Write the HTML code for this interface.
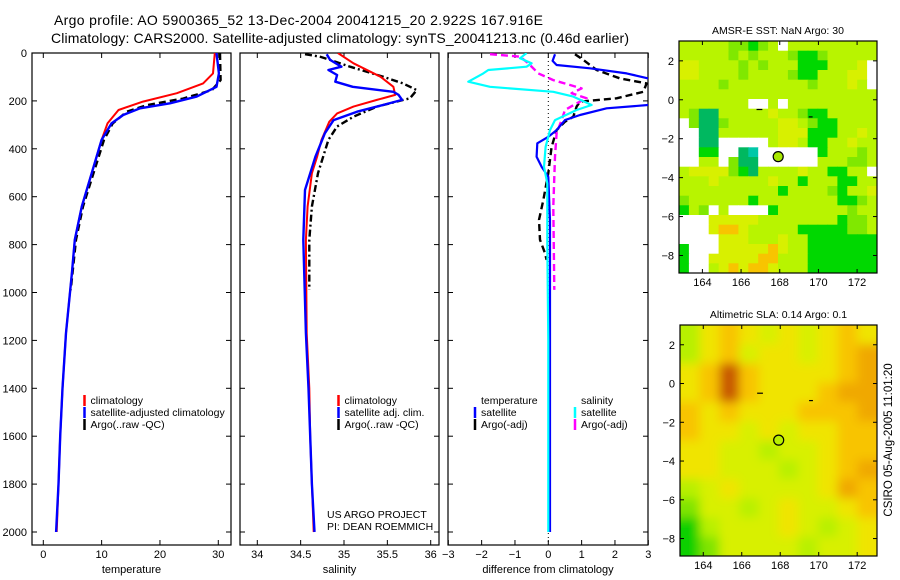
<!DOCTYPE html>
<html><head><meta charset="utf-8">
<style>
html,body{margin:0;padding:0;background:#fff;}
svg{display:block;font-family:"Liberation Sans",sans-serif;}
</style></head>
<body>
<svg id="fig" width="900" height="580" viewBox="0 0 900 580" xmlns="http://www.w3.org/2000/svg">
<defs>
<clipPath id="c1"><rect x="32" y="53" width="199" height="492"/></clipPath>
<clipPath id="c2"><rect x="240" y="53" width="199" height="492"/></clipPath>
<clipPath id="c3"><rect x="448" y="53" width="200" height="492"/></clipPath>
<clipPath id="cm1"><rect x="679" y="41" width="198" height="232"/></clipPath>
<clipPath id="cm2"><rect x="680" y="325" width="197" height="231"/></clipPath>
<filter id="blur" x="-5%" y="-5%" width="110%" height="110%"><feGaussianBlur stdDeviation="5"/></filter>
</defs>
<text x="54" y="25" font-size="14" textLength="489">Argo profile: AO 5900365_52 13-Dec-2004 20041215_20 2.922S 167.916E</text>
<text x="51" y="43" font-size="14" textLength="578">Climatology: CARS2000. Satellite-adjusted climatology: synTS_20041213.nc (0.46d earlier)</text>
<g id="g"></g>
</svg>
<script>
// ---- data ----
const depthTicks = [0,200,400,600,800,1000,1200,1400,1600,1800,2000];
const tempTicks = [0,10,20,30];
const salTicks = [34,34.5,35,35.5,36];
const diffTicks = [-3,-2,-1,0,1,2,3];

const tempClimDepth = [0,85,127,168,203,238,294,363,502,641,780,919,1169,1400,1600,1800,2000];
const tempClim = [29.4,29.1,27.4,22.9,17.1,12.9,11,10,8.3,6.6,5.4,4.9,3.9,3.3,2.9,2.6,2.3];
const tempSatDepth = [0,85,141,182,210,231,259,294,363,502,641,780,919,1169,1400,1600,1800,2000];
const tempSat = [29.7,30.1,29.7,26.3,21.7,16.6,13.7,11.7,10,8.3,6.6,5.4,4.9,3.9,3.3,2.9,2.6,2.2];
const tempArgoDepth = [0,113,155,190,218,245,294,363,502,641,780,919,990];
const tempArgo = [30.3,30.4,28.9,24,17.7,14.3,11.9,10.4,8.6,6.8,5.6,5.0,4.7];

const salClimDepth = [0,43,99,141,175,196,224,252,287,363,433,502,641,780,1169,1400,1600,1800,2000];
const salClim = [34.93,35.11,35.42,35.57,35.59,35.38,35.11,34.92,34.83,34.74,34.69,34.63,34.58,34.56,34.57,34.6,34.61,34.63,34.65];
const salSatDepth = [5,29,57,71,92,120,141,162,175,196,217,245,280,335,433,572,780,1169,1400,1600,1800,2000];
const salSat = [34.8,34.84,34.97,34.82,34.92,34.9,35.1,35.57,35.63,35.67,35.45,35.15,34.88,34.78,34.67,34.55,34.53,34.56,34.59,34.61,34.63,34.66];
const salArgoDepth = [5,15,29,57,99,127,155,189,224,266,307,363,502,641,780,989];
const salArgo = [34.55,34.72,34.84,35.07,35.45,35.68,35.84,35.76,35.38,35.11,34.92,34.82,34.7,34.63,34.6,34.6];

const dTSatDepth = [5,33,50,64,85,106,140,180,217,231,259,280,322,350,377,433,475,517,700,1000,1500,2000];
const dTSat = [0.2,0.13,0.25,1.25,2.35,3,3.6,3.6,3,1.75,0.95,0.5,0.25,0,-0.33,-0.35,-0.2,0,0.05,0.05,0.05,0.05];
const dTArgoDepth = [5,29,71,106,127,162,189,203,224,266,287,322,392,502,614,697,780,836,864];
const dTArgo = [0.8,1.05,1.45,2.15,2.95,2.85,2.05,0.95,0.85,0.75,0.5,0.25,0.1,0,-0.15,-0.28,-0.25,-0.1,-0.05];
const dSSatDepth = [0,22,43,57,71,85,120,141,162,182,217,238,280,322,392,475,544,800,1200,1600,2000];
const dSSat = [-0.65,-0.85,-0.5,-0.65,-1.8,-1.95,-2.4,-1.75,0.15,0.75,1.3,0.85,0.2,0.05,-0.08,-0.13,-0.03,-0.03,0,0,0];
const dSArgoDepth = [5,15,43,85,113,148,168,189,210,238,280,335,433,641,989];
const dSArgo = [-1.75,-0.85,-0.6,-0.3,0.15,1,0.7,1.15,0.85,0.5,0.4,0.25,0.2,0.15,0.18];

const lonTicks = [164,166,168,170,172];
const latTicks = [2,0,-2,-4,-6,-8];
const argoLon = 167.92, argoLat = -2.92;
const sstRows = [
"lllllggGgl.lllllllll",
"lllllglglllgGGglllll",
"yyllllglglllGGGllly.",
"yyllllgllllgGGlllyy.",
"llllgllllllllglllyl.",
"llllllllllllllllllll",
"lllllll..l.lllllllll",
"lgttlllllyllgGGlllll",
".gttglllllyylgGGllll",
"..ttllllllyyyGGGllyl",
"..tt.....lyylGGllyll",
"..GG..tc......Glllgl",
"..ll.gtt......lllggl",
"lyyyygGtllllyllGGll.",
"lllylllllyllGlllGGll",
"llllllllllGllllgGlly",
"gllllllGllllllllGGgl",
"Glg.l....Glllllllgll",
"...yyyyyllllllllGggl",
"...yooylllllGGGGGggl",
"....yyylllyllGGGGGGG",
"G...yyyyyoyllGGGGGGG",
"G..yyyyyoolllGGGGGGG",
"G..lyoyooylllGGGGGGG"];
const slaRows = [
"lyayYyYyay",
"lyaYyyYyao",
"yaOayyyyao",
"yaOayyyaoo",
"ayayyyaaao",
"ayyYyYyyaa",
"yyYYlYYyaa",
"yyYYYlYyao",
"lYyYYYYyoa",
"gYYlYyYYya",
"GlYYYyYlYy",
"GgYYYYlYYy"];

// ---- drawing ----
const NS = "http://www.w3.org/2000/svg";
const G = document.getElementById('g');
function el(tag, attrs, parent){
  const e = document.createElementNS(NS, tag);
  for (const k in attrs) e.setAttribute(k, attrs[k]);
  (parent||G).appendChild(e);
  return e;
}
function txt(x,y,s,size,anchor,parent){
  const t = el('text',{x:x,y:y,'font-size':size,'text-anchor':anchor||'middle'},parent);
  t.textContent = s; return t;
}
const yD = d => 53 + d*0.2395;
const panels = [
  {x0:32,x1:231,fx:v=>43.3+5.833*v,ticks:tempTicks,title:'temperature',clip:'c1',name:'temperature-panel'},
  {x0:240,x1:439,fx:v=>257.3+(v-34)*86.7,ticks:salTicks,title:'salinity',clip:'c2',name:'salinity-panel'},
  {x0:448,x1:648,fx:v=>548.3+33.33*v,ticks:diffTicks,title:'difference from climatology',clip:'c3',name:'difference-panel'}
];
panels.forEach((p,i)=>{
  const g = el('g',{});
  
  
  const r = el('rect',{x:p.x0,y:53,width:p.x1-p.x0,height:492,fill:'none',stroke:'#000','stroke-width':1.2},g);
  
  
  p.ticks.forEach(v=>{
    const x = p.fx(v);
    el('line',{x1:x,x2:x,y1:545,y2:540,stroke:'#000'},g);
    el('line',{x1:x,x2:x,y1:53,y2:58,stroke:'#000'},g);
    const t = txt(x,558,String(v).replace('-','\u2212'),11,'middle',g);
    
    
  });
  depthTicks.forEach(d=>{
    el('line',{x1:p.x0,x2:p.x0+5,y1:yD(d),y2:yD(d),stroke:'#000'},g);
    el('line',{x1:p.x1,x2:p.x1-5,y1:yD(d),y2:yD(d),stroke:'#000'},g);
    if(i===0){
      const t = txt(27,yD(d)+4,String(d),11,'end',g);
      
      
    }
  });
  const at = txt((p.x0+p.x1)/2,573,p.title,11,'middle',g);
  
  
});
function series(p, depths, vals, color, dash, name, w){
  const pts = depths.map((d,k)=>p.fx(vals[k]).toFixed(1)+','+yD(d).toFixed(1)).join(' ');
  const a = {points:pts,fill:'none',stroke:color,'stroke-width':w||2,'clip-path':'url(#'+p.clip+')','stroke-linejoin':'round'};
  if(dash) a['stroke-dasharray']=dash;
  const l = el('polyline',a);
  
  
}
const P1=panels[0],P2=panels[1],P3=panels[2];
const zl = el('line',{x1:P3.fx(0),x2:P3.fx(0),y1:53,y2:545,stroke:'#000','stroke-width':1,'stroke-dasharray':'1,3'});


series(P1,tempArgoDepth,tempArgo,'#000','7,4','temperature-argo-line',2.4);
series(P1,tempClimDepth,tempClim,'#f00',null,'temperature-climatology-line',2);
series(P1,tempSatDepth,tempSat,'#00f',null,'temperature-satellite-line',2.4);
series(P2,salArgoDepth,salArgo,'#000','7,3,2,3','salinity-argo-line',2.4);
series(P2,salClimDepth,salClim,'#f00',null,'salinity-climatology-line',2);
series(P2,salSatDepth,salSat,'#00f',null,'salinity-satellite-line',2.4);
series(P3,dTArgoDepth,dTArgo,'#000','7,4','temp-diff-argo-line',2.4);
series(P3,dSArgoDepth,dSArgo,'#f0f','7,4','sal-diff-argo-line',2.4);
series(P3,dTSatDepth,dTSat,'#00f',null,'temp-diff-satellite-line',2.2);
series(P3,dSSatDepth,dSSat,'#0ff',null,'sal-diff-satellite-line',2.2);

// legends
function legItem(x,y,color,label,name){
  const g = el('g',{});
  
  
  if(color) el('line',{x1:x,x2:x,y1:y-9,y2:y+2,stroke:color,'stroke-width':2.5},g);
  txt(x+6,y,label,10.5,'start',g);
}
legItem(84.5,404,'#f00','climatology','legend-climatology');
legItem(84.5,416,'#00f','satellite-adjusted climatology','legend-satellite-adjusted');
legItem(84.5,428,'#000','Argo(..raw -QC)','legend-argo');
legItem(338.5,404,'#f00','climatology','legend-sal-climatology');
legItem(338.5,416,'#00f','satellite adj. clim.','legend-sal-satellite');
legItem(338.5,428,'#000','Argo(..raw -QC)','legend-sal-argo');
legItem(475,404,null,'temperature','legend-temp-header');
legItem(475,416,'#00f','satellite','legend-temp-satellite');
legItem(475,428,'#000','Argo(-adj)','legend-temp-argo');
legItem(575,404,null,'salinity','legend-sal-header');
legItem(575,416,'#0ff','satellite','legend-sal-sat');
legItem(575,428,'#f0f','Argo(-adj)','legend-sal-argo-adj');
const c1 = txt(327,518,'US ARGO PROJECT',10.5,'start');  
const c2 = txt(327,530,'PI: DEAN ROEMMICH',10.5,'start');  

// maps
const sstColors = {'.':'#ffffff','o':'#f8c400','y':'#d8f000','l':'#b8f400','g':'#80e800','G':'#00d800','t':'#00b860','c':'#00c8a8'};
const slaColors = {'O':'#c85800','o':'#f0a800','a':'#f8c400','y':'#f0e400','Y':'#d8f000','l':'#b8f000','g':'#80e400','G':'#10d000'};
function drawMap(m){
  const fx = lon => m.x0 + (lon-m.lon0)*(m.x1-m.x0)/(m.lon1-m.lon0);
  const fy = lat => m.y0 + (m.lat0-lat)*(m.y1-m.y0)/(m.lat0-m.lat1);
  const g = el('g',{});
  
  
  const cg = el('g',{'clip-path':'url(#'+m.clip+')'},g);
  const inner = el('g', m.blur?{filter:'url(#blur)'}:{}, cg);
  const nr = m.rows.length, nc = m.rows[0].length;
  const cw = (m.x1-m.x0)/nc, ch = (m.y1-m.y0)/nr;
  const pad = m.blur?1:0;
  for(let r=-pad;r<nr+pad;r++){
    for(let c=-pad;c<nc+pad;c++){
      const rr=Math.min(nr-1,Math.max(0,r)), cc=Math.min(nc-1,Math.max(0,c));
      const ch0 = m.rows[rr][cc]||'l';
      const cell = el('rect',{x:(m.x0+c*cw).toFixed(1),y:(m.y0+r*ch).toFixed(1),width:(cw+0.6).toFixed(1),height:(ch+0.6).toFixed(1),fill:m.colors[ch0]},inner);
      
      
    }
  }
  el('line',{x1:fx(166.8),x2:fx(167.1),y1:fy(-0.5),y2:fy(-0.5),stroke:'#000','stroke-width':1.2},g);
  el('line',{x1:fx(169.5),x2:fx(169.7),y1:fy(-0.88),y2:fy(-0.88),stroke:'#000','stroke-width':1.2},g);
  const dot = el('circle',{cx:fx(argoLon),cy:fy(argoLat),r:5,fill:m.dotFill,stroke:'#000','stroke-width':1.2},g);
  
  
  el('rect',{x:m.x0,y:m.y0,width:m.x1-m.x0,height:m.y1-m.y0,fill:'none',stroke:'#000','stroke-width':1.2},g);
  lonTicks.forEach(v=>{
    const x=fx(v);
    el('line',{x1:x,x2:x,y1:m.y1,y2:m.y1-4,stroke:'#000'},g);
    el('line',{x1:x,x2:x,y1:m.y0,y2:m.y0+4,stroke:'#000'},g);
    const t=txt(x,m.y1+13,String(v),11,'middle',g);
     
  });
  latTicks.forEach(v=>{
    const y=fy(v);
    el('line',{x1:m.x0,x2:m.x0+4,y1:y,y2:y,stroke:'#000'},g);
    el('line',{x1:m.x1,x2:m.x1-4,y1:y,y2:y,stroke:'#000'},g);
    const t=txt(m.x0-5,y+4,String(v).replace('-','\u2212'),11,'end',g);
     
  });
  const tt = txt((m.x0+m.x1)/2,m.y0-7,m.title,10.5,'middle',g);
  
  
}
drawMap({name:'sst-map',x0:679,x1:877,y0:41,y1:273,lon0:162.79,lon1:173.03,lat0:3.02,lat1:-8.9,rows:sstRows,colors:sstColors,clip:'cm1',blur:false,dotFill:'#a8e800',title:'AMSR-E SST: NaN Argo: 30'});
drawMap({name:'sla-map',x0:680,x1:877,y0:325,y1:556,lon0:162.79,lon1:173.03,lat0:3.02,lat1:-8.9,rows:slaRows,colors:slaColors,clip:'cm2',blur:true,dotFill:'#b8f000',title:'Altimetric SLA: 0.14 Argo: 0.1'});
const st = el('text',{x:0,y:0,'font-size':11.5,'text-anchor':'middle',transform:'translate(892,440) rotate(-90)'});
st.textContent='CSIRO 05-Aug-2005 11:01:20';


</script>
</body></html>
